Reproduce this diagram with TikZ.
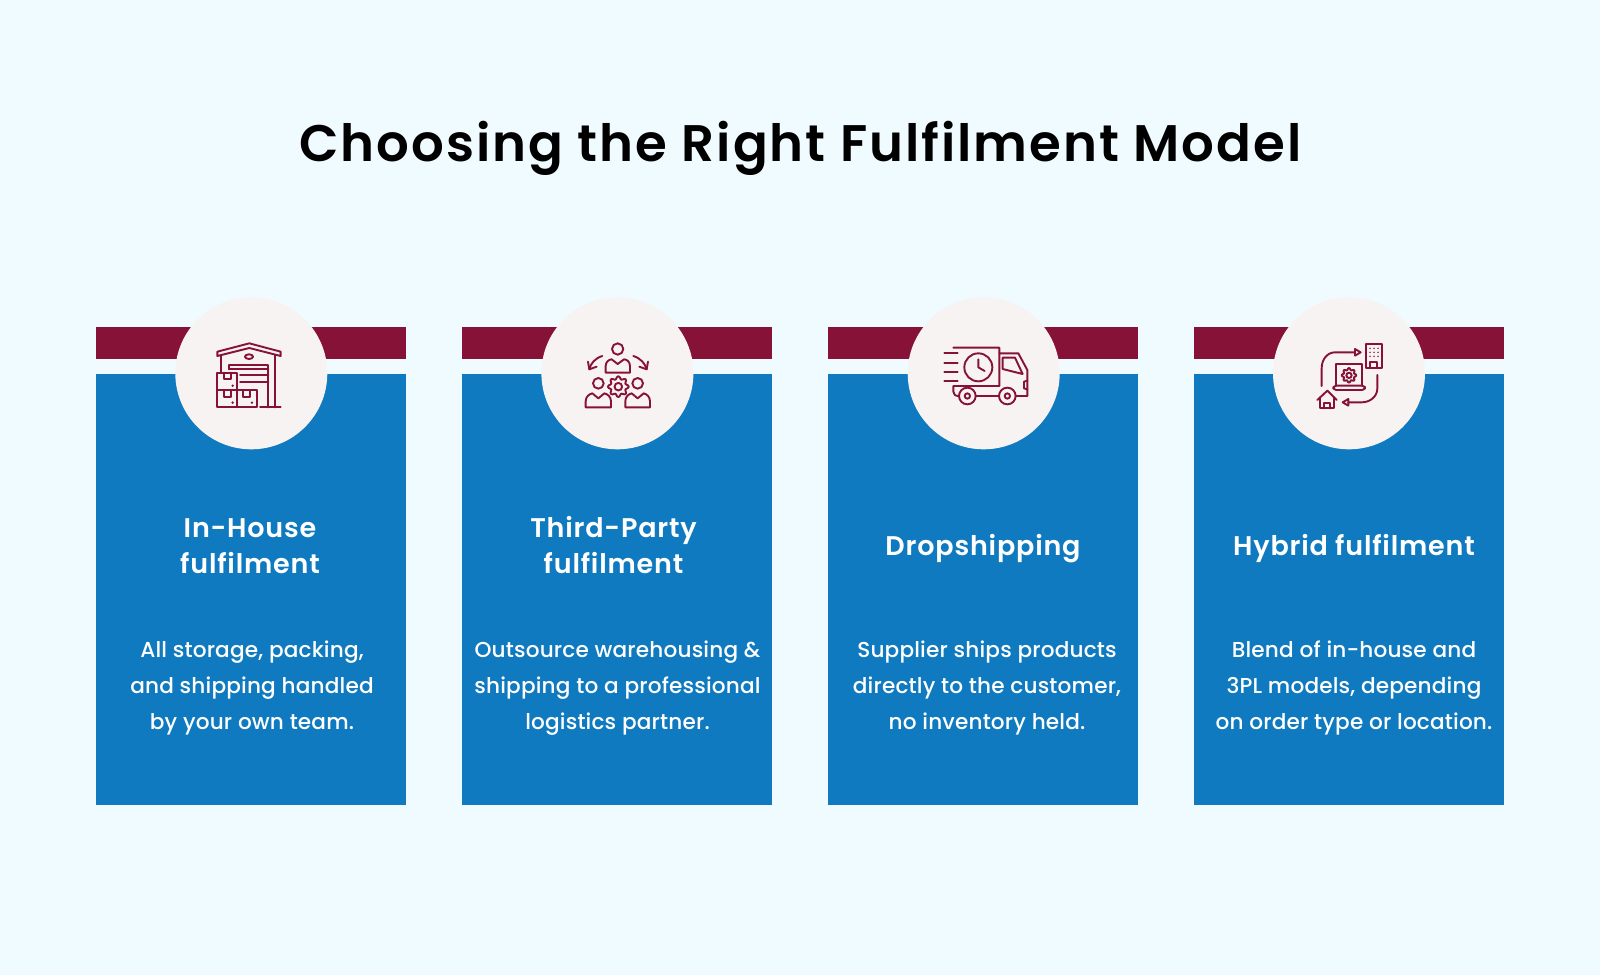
\documentclass[tikz,border=0pt]{standalone}
\usepackage{fontspec}
\setmainfont{Poppins}[BoldFont={Poppins SemiBold}]
\newfontfamily\bodyface{Poppins Medium}[LetterSpace=0.8]
\newfontfamily\headface{Poppins SemiBold}[LetterSpace=3]
\newfontfamily\titleface{Poppins SemiBold}[LetterSpace=3.9]
\usetikzlibrary{arrows.meta, positioning}
\definecolor{fmback}{HTML}{F0FBFF}
\definecolor{fmred}{HTML}{861237}
\definecolor{fmblue}{HTML}{0F7ABF}
\definecolor{fmdisc}{HTML}{F7F3F2}
\tikzset{
  bandbar/.style={fill=fmred, minimum width=310pt, minimum height=32.3pt, inner sep=0pt},
  bodybar/.style={fill=fmblue, minimum width=310pt, minimum height=431pt, inner sep=0pt},
  icondisc/.style={circle, fill=fmdisc, minimum size=152pt, inner sep=0pt},
  headtext/.style={text=white, align=center, font=\headface\fontsize{27}{36}\selectfont},
  bodytext/.style={text=white, align=center, font=\bodyface\fontsize{21.6}{35.7}\selectfont},
  iconline/.style={draw=fmred, line width=1.9pt, line join=round, line cap=round},
}
% wavy outline of a gear, centre and radius in icon units
\newcommand{\cogicon}[3]{%
  \draw[iconline, shift={(#1,#2)}] plot[domain=0:352.5, samples=48, smooth cycle] (\x:{#3*(1+0.16*cos(8*\x))});
  \draw[iconline] (#1,#2) circle ({#3*0.42});
}
\begin{document}
\begin{tikzpicture}[x=1pt, y=-1pt]
  \useasboundingbox (0,0) rectangle (1600,975);
  \fill[fmback] (0,0) rectangle (1600,975);

  \node[font=\titleface\fontsize{51.4}{60}\selectfont, anchor=base] (title) at (800.5,161) {Choosing the Right Fulfilment Model};

  % In-house card
  \node[bandbar] (houseband) at (251,342.8) {};
  \node[bodybar] (housebody) at (251,589.3) {};
  \node[icondisc] (housedisc) at (251.3,373.3) {};
  \node[headtext] (househead) at (250,546) {In-House\\fulfilment};
  \node[bodytext] (housetext) at (252,688) {All storage, packing,\\and shipping handled\\by your own team.};

  % Third-party card
  \node[bandbar] (partyband) at (617,342.8) {};
  \node[bodybar] (partybody) at (617,589.3) {};
  \node[icondisc] (partydisc) at (617.4,373.3) {};
  \node[headtext] (partyhead) at (613.5,545) {Third-Party\\fulfilment};
  \node[bodytext] (partytext) at (617.5,688) {Outsource warehousing \&\\shipping to a professional\\logistics partner.};

  % Dropshipping card
  \node[bandbar] (dropband) at (983,342.8) {};
  \node[bodybar] (dropbody) at (983,589.3) {};
  \node[icondisc] (dropdisc) at (983.7,373.3) {};
  \node[headtext] (drophead) at (983,548.5) {Dropshipping};
  \node[bodytext] (droptext) at (987,688) {Supplier ships products\\directly to the customer,\\no inventory held.};

  % Hybrid card
  \node[bandbar] (hybridband) at (1349,342.8) {};
  \node[bodybar] (hybridbody) at (1349,589.3) {};
  \node[icondisc] (hybriddisc) at (1349,373.3) {};
  \node[headtext] (hybridhead) at (1354,548.5) {Hybrid fulfilment};
  \node[bodytext] (hybridtext) at (1354,688) {Blend of in-house and\\3PL models, depending\\on order type or location.};

  % Warehouse icon
  \begin{scope}[shift={(190,320)}, x=0.3333pt, y=-0.3333pt]
    \draw[iconline] (82,95) -- (178,70) -- (272,95) -- (272,108) -- (178,84) -- (82,108) -- cycle;
    \draw[iconline] (92,108) -- (92,158);
    \draw[iconline] (255,105) -- (255,262);
    \draw[iconline] (177,110) ellipse (12 and 7);
    \draw[iconline] (118,148) -- (118,135) -- (235,135) -- (235,262);
    \draw[iconline] (118,148) -- (235,148);
    \draw[iconline] (150,165) -- (235,165);
    \draw[iconline] (150,185) -- (235,185);
    \draw[iconline] (210,262) -- (272,262);
    \draw[iconline] (82,158) rectangle (142,210);
    \draw[iconline] (82,210) rectangle (142,262);
    \draw[iconline] (142,210) rectangle (200,262);
    \draw[iconline] (102,158) -- (102,178) -- (122,178) -- (122,158);
    \draw[iconline] (102,210) -- (102,230) -- (122,230) -- (122,210);
    \draw[iconline] (160,210) -- (160,230) -- (180,230) -- (180,210);
    \fill[fmred] (128,197) circle (4) (128,248) circle (4) (186,248) circle (4);
  \end{scope}

  % Team icon
  \begin{scope}[shift={(550,320)}, x=0.3333pt, y=-0.3333pt]
    \draw[iconline] (203,87) circle (17);
    \draw[iconline] (167,158) -- (167,138) .. controls (167,125) and (178,118) .. (185,118) -- (203,132) -- (222,118) .. controls (230,118) and (240,125) .. (240,138) -- (240,158) -- cycle;
    \draw[iconline] (157,108) .. controls (135,115) and (122,130) .. (118,148);
    \draw[iconline] (114,125) -- (118,148) -- (140,140);
    \draw[iconline] (250,108) .. controls (272,115) and (285,130) .. (290,148);
    \draw[iconline] (268,140) -- (290,148) -- (294,125);
    \cogicon{205}{200}{27}
    \draw[iconline] (145,190) circle (16);
    \draw[iconline] (107,262) -- (107,244) .. controls (107,230) and (118,222) .. (127,220) -- (145,235) -- (163,220) .. controls (172,222) and (183,230) .. (183,244) -- (183,262) -- cycle;
    \draw[iconline] (263,190) circle (16);
    \draw[iconline] (226,262) -- (226,244) .. controls (226,230) and (236,222) .. (245,220) -- (263,235) -- (281,220) .. controls (290,222) and (300,230) .. (300,244) -- (300,262) -- cycle;
  \end{scope}

  % Truck icon
  \begin{scope}[shift={(910,320)}, x=0.3333pt, y=-0.3333pt]
    \draw[iconline] (130,83) -- (268,83) -- (268,198) -- (130,198) -- (130,215) .. controls (130,224) and (136,228) .. (147,228);
    \draw[iconline] (103,100) -- (143,100);
    \draw[iconline] (103,128) -- (143,128);
    \draw[iconline] (103,155) -- (143,155);
    \draw[iconline] (103,183) -- (143,183);
    \draw[iconline] (205,142) circle (42);
    \draw[iconline] (205,118) -- (205,142) -- (224,153);
    \draw[iconline] (268,100) -- (325,100) -- (352,150) -- (352,228) -- (317,228);
    \draw[iconline] (278,113) -- (315,113) -- (338,162) -- (278,147) -- cycle;
    \draw[iconline] (197,228) -- (267,228);
    \draw[iconline] (172,228) circle (25);
    \draw[iconline] (172,228) circle (8);
    \draw[iconline] (292,228) circle (25);
    \draw[iconline] (292,228) circle (8);
    \draw[iconline] (352,182) -- (342,185) -- (342,205) -- (352,208);
  \end{scope}

  % Hybrid icon
  \begin{scope}[shift={(1270,320)}, x=0.3333pt, y=-0.3333pt]
    \draw[iconline] (288,72) rectangle (335,143);
    \fill[fmred] (300,85) circle (2.5) (312,85) circle (2.5) (324,85) circle (2.5)
      (300,97) circle (2.5) (312,97) circle (2.5) (324,97) circle (2.5)
      (300,109) circle (2.5) (312,109) circle (2.5) (324,109) circle (2.5);
    \draw[iconline] (300,143) -- (300,125) -- (322,125) -- (322,143);
    \draw[iconline] (198,197) -- (198,133) -- (275,133) -- (275,197);
    \draw[iconline, rounded corners=3pt] (190,197) rectangle (285,210);
    \cogicon{237}{166}{19}
    \draw[iconline] (155,198) -- (155,145) .. controls (155,118) and (172,97) .. (195,97) -- (255,97);
    \draw[iconline] (255,87) -- (272,97) -- (255,107) -- cycle;
    \draw[iconline] (322,165) -- (322,205) .. controls (322,230) and (300,247) .. (275,247) -- (235,247);
    \draw[iconline] (235,237) -- (218,247) -- (235,257) -- cycle;
    \draw[iconline] (142,240) -- (172,212) -- (200,240);
    \draw[iconline] (150,233) -- (150,265) -- (192,265) -- (192,233);
    \draw[iconline] (163,265) -- (163,248) -- (180,248) -- (180,265);
  \end{scope}
\end{tikzpicture}
\end{document}
